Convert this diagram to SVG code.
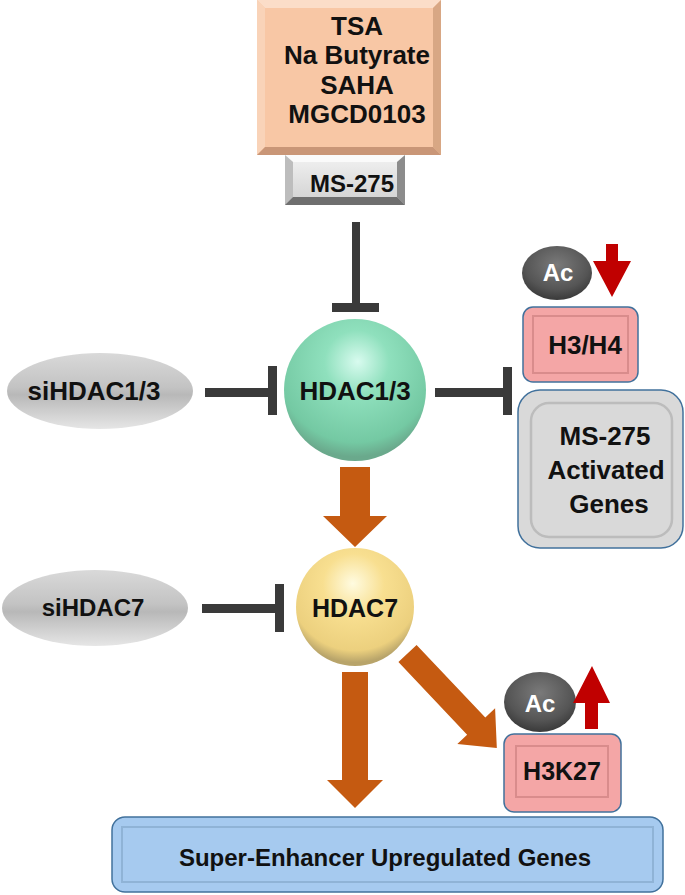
<svg xmlns="http://www.w3.org/2000/svg" width="685" height="895" viewBox="0 0 685 895">
<style>
text{font-family:"Liberation Sans",Arial,sans-serif;font-weight:bold;text-anchor:middle;fill:#111}
.w{fill:#fff}
.inh{fill:#3a3a3a}
.org{fill:#c55a11}
.red{fill:#c00000}
</style>
<defs>
<radialGradient id="gGreen" cx="0.5" cy="0.32" r="0.65" fx="0.52" fy="0.3">
<stop offset="0" stop-color="#d8fbef"/><stop offset="0.35" stop-color="#8fe0bd"/><stop offset="0.85" stop-color="#74c9a3"/><stop offset="1" stop-color="#6aa98c"/>
</radialGradient>
<radialGradient id="gYellow" cx="0.5" cy="0.32" r="0.65" fx="0.48" fy="0.3">
<stop offset="0" stop-color="#fffbe0"/><stop offset="0.4" stop-color="#f8df90"/><stop offset="0.85" stop-color="#ecd07e"/><stop offset="1" stop-color="#b8a46a"/>
</radialGradient>
<linearGradient id="gGrayEll" x1="0" y1="0" x2="0" y2="1">
<stop offset="0" stop-color="#d9d9d9"/><stop offset="0.45" stop-color="#c3c3c3"/><stop offset="0.55" stop-color="#b8b8b8"/><stop offset="1" stop-color="#e6e6e6"/>
</linearGradient>
<radialGradient id="gAc" cx="0.5" cy="0.35" r="0.65">
<stop offset="0" stop-color="#7a7a7a"/><stop offset="0.7" stop-color="#555"/><stop offset="1" stop-color="#3a3a3a"/>
</radialGradient>
<linearGradient id="gMs" x1="0" y1="0" x2="0" y2="1">
<stop offset="0" stop-color="#f2f2f2"/><stop offset="1" stop-color="#d0d0d0"/>
</linearGradient>
</defs>

<g id="connectors">
<rect class="inh" x="352" y="222" width="8" height="84"/>
<rect class="inh" x="332" y="303" width="47" height="9"/>
<rect class="inh" x="205" y="388" width="66" height="9"/>
<rect class="inh" x="268" y="366" width="9" height="49"/>
<rect class="inh" x="435" y="388" width="71" height="9"/>
<rect class="inh" x="503" y="367" width="9" height="48"/>
<rect class="inh" x="202" y="604" width="78" height="9"/>
<rect class="inh" x="275" y="584" width="9" height="48"/>
<polygon class="org" points="340,467 370,467 370,516 387,516 355,547 323,516 340,516"/>
<polygon class="org" points="342,672 368,672 368,780 383,780 355,808 327,780 342,780"/>
<polygon class="org" transform="translate(407.5,653.5) rotate(46.6)" points="0,-12.5 100,-12.5 100,-26 130,0 100,26 100,12.5 0,12.5"/>
</g>

<g id="inhibitors">
<rect x="257" y="0" width="184" height="155" fill="#f8c7a5"/>
<polygon points="257,0 441,0 433,8 265,8" fill="#fbddc8"/>
<polygon points="257,0 265,8 265,147 257,155" fill="#f9d3b8"/>
<polygon points="441,0 441,155 433,147 433,8" fill="#d8a784"/>
<polygon points="257,155 441,155 433,147 265,147" fill="#c99677"/>
<text x="357" y="35" font-size="26">TSA</text>
<text x="357" y="64" font-size="26">Na Butyrate</text>
<text x="357" y="94" font-size="26">SAHA</text>
<text x="357" y="123" font-size="26">MGCD0103</text>
</g>

<g id="ms275">
<rect x="285" y="155" width="120" height="50" fill="url(#gMs)"/>
<polygon points="285,155 405,155 397,162 293,162" fill="#fafafa"/>
<polygon points="285,155 293,162 293,197 285,205" fill="#bdbdbd"/>
<polygon points="405,155 405,205 397,197 397,162" fill="#8c8c8c"/>
<polygon points="285,205 405,205 397,197 293,197" fill="#6f6f6f"/>
<text x="352" y="192" font-size="24">MS-275</text>
</g>

<g id="hdac13">
<circle cx="355" cy="390" r="71" fill="url(#gGreen)"/>
<text x="355" y="400" font-size="26">HDAC1/3</text>
</g>

<g id="sihdac13">
<ellipse cx="100" cy="391" rx="93" ry="38" fill="url(#gGrayEll)"/>
<text x="94" y="400" font-size="26">siHDAC1/3</text>
</g>

<g id="ac1">
<ellipse cx="557" cy="273" rx="35" ry="27" fill="url(#gAc)"/>
<text class="w" x="558" y="281" font-size="24">Ac</text>
</g>

<g id="down-arrow">
<polygon class="red" points="606,244 618,244 618,261 631,261 612,297 593,261 606,261"/>
</g>

<g id="h3h4">
<rect x="523" y="307" width="115" height="75" rx="10" fill="#f4a6a6" stroke="#41719c" stroke-width="1.5"/>
<rect x="533" y="316" width="95" height="57" fill="#f4a6a6" stroke="#d98c8c" stroke-width="2"/>
<text x="585" y="354" font-size="26">H3/H4</text>
</g>

<g id="ms275-genes">
<rect x="518" y="390" width="165" height="158" rx="22" fill="#d9d9d9" stroke="#41719c" stroke-width="1.5"/>
<rect x="531" y="403" width="141" height="134" rx="18" fill="#d9d9d9" stroke="#bcbcbc" stroke-width="2.5"/>
<text x="605" y="445" font-size="26">MS-275</text>
<text x="606" y="479" font-size="26">Activated</text>
<text x="609" y="513" font-size="26">Genes</text>
</g>

<g id="hdac7">
<circle cx="355" cy="607" r="59" fill="url(#gYellow)"/>
<text x="355" y="617" font-size="25">HDAC7</text>
</g>

<g id="sihdac7">
<ellipse cx="95" cy="608" rx="93" ry="38" fill="url(#gGrayEll)"/>
<text x="93" y="616" font-size="24">siHDAC7</text>
</g>

<g id="ac2">
<ellipse cx="540" cy="702" rx="36" ry="30" fill="url(#gAc)"/>
<text class="w" x="540" y="712" font-size="24">Ac</text>
</g>

<g id="up-arrow">
<polygon class="red" points="585,729 598,729 598,703 610,703 592,666 573,703 585,703"/>
</g>

<g id="h3k27">
<rect x="504" y="734" width="117" height="78" rx="10" fill="#f4a6a6" stroke="#41719c" stroke-width="1.5"/>
<rect x="516" y="746" width="92" height="51" fill="#f4a6a6" stroke="#d98c8c" stroke-width="2"/>
<text x="562" y="780" font-size="25">H3K27</text>
</g>

<g id="super-enhancer">
<rect x="112" y="817" width="551" height="75" rx="13" fill="#a6caef" stroke="#41719c" stroke-width="1.5"/>
<rect x="122" y="827" width="531" height="55" fill="#a6caef" stroke="#8fb3d6" stroke-width="2"/>
<text x="385" y="866" font-size="24">Super-Enhancer Upregulated Genes</text>
</g>
</svg>
